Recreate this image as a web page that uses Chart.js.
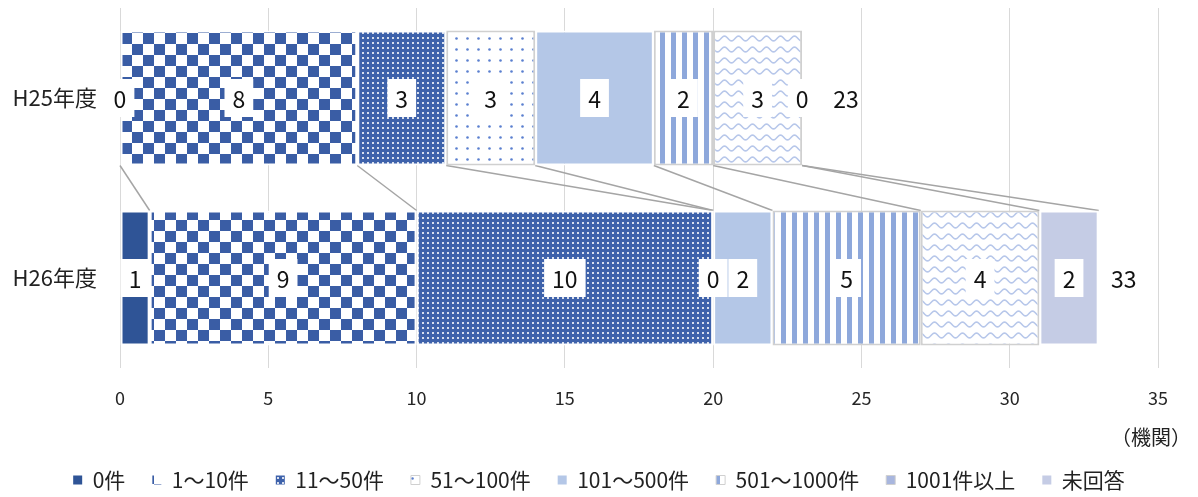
<!DOCTYPE html>
<html>
<head>
<meta charset="utf-8">
<script src="https://cdn.jsdelivr.net/npm/chart.js@4.4.1/dist/chart.umd.min.js"></script>
<style>
  html, body { margin: 0; padding: 0; background: #ffffff; }
  #wrap { width: 1198px; height: 497px; }
</style>
</head>
<body>
<div id="wrap"><canvas id="chart" width="1198" height="497"></canvas></div>
<script>
// Fiscal years (rows) and the request-count bands (stacked segments)
const years = ['H25年度', 'H26年度'];
const bands = ['0件', '1～10件', '11～50件', '51～100件', '101～500件', '501～1000件', '1001件以上', '未回答'];

// Number of institutions per band, [H25, H26]
const count0      = [0, 1];
const count1to10  = [8, 9];
const count11to50 = [3, 10];
const count51to100 = [3, 0];
const count101to500 = [4, 2];
const count501to1000 = [2, 5];
const count1001plus = [3, 4];
const countNoAnswer = [0, 2];

// Horizontal axis range
const axisMax = 35;
const axisStep = 5;
const unitLabel = '（機関）';

const FONT = "'Noto Sans CJK JP', 'Noto Sans', sans-serif";

// ---- fill patterns ----
function tile(w, h, paint) {
  const c = document.createElement('canvas');
  c.width = w; c.height = h;
  const g = c.getContext('2d');
  paint(g, w, h);
  return g.createPattern(c, 'repeat');
}
const fillSolidDark = '#2F5496';
const fillChecker = tile(22, 22, (g) => {
  g.fillStyle = '#ffffff'; g.fillRect(0, 0, 22, 22);
  g.fillStyle = '#3A5DA5';
  g.fillRect(0, 0, 11, 11); g.fillRect(11, 11, 11, 11);
});
const fillFineDots = tile(5, 5, (g) => {
  g.fillStyle = '#3E62AB'; g.fillRect(0, 0, 5, 5);
  g.fillStyle = 'rgba(255,255,255,0.8)'; g.fillRect(2, 2, 2, 2);
});
const fillSparseDots = tile(11, 11, (g) => {
  g.fillStyle = '#ffffff'; g.fillRect(0, 0, 11, 11);
  g.fillStyle = '#5A7FCF';
  g.beginPath(); g.arc(5.5, 5.5, 1.3, 0, Math.PI * 2); g.fill();
});
const fillLight = '#B4C7E7';
const fillStripes = tile(11, 11, (g) => {
  g.fillStyle = '#ffffff'; g.fillRect(0, 0, 11, 11);
  g.fillStyle = '#8EA8DB'; g.fillRect(0, 0, 5, 11);
});
const fillWaves = tile(14, 11, (g) => {
  g.fillStyle = '#ffffff'; g.fillRect(0, 0, 14, 11);
  g.strokeStyle = '#B7C7EA'; g.lineWidth = 1.6;
  g.beginPath();
  for (let x = -2; x <= 16; x += 0.5) {
    const y = 5.5 + 2.4 * Math.sin(2 * Math.PI * x / 14);
    if (x === -2) g.moveTo(x, y); else g.lineTo(x, y);
  }
  g.stroke();
});
const fillNoAnswer = '#C5CCE5';

const edgeWhite = '#ffffff';
const edgeGray = '#D0D0D0';

const seriesValues = [count0, count1to10, count11to50, count51to100, count101to500, count501to1000, count1001plus, countNoAnswer];
const seriesFills = [fillSolidDark, fillChecker, fillFineDots, fillSparseDots, fillLight, fillStripes, fillWaves, fillNoAnswer];
const seriesEdges = [edgeWhite, edgeWhite, edgeWhite, edgeGray, edgeWhite, edgeGray, edgeGray, edgeWhite];
const legendFills = [null, null, null, null, null, null, '#A8B6DE', null];

const datasets = bands.map((name, i) => ({
  label: name,
  data: seriesValues[i],
  backgroundColor: seriesFills[i],
  borderColor: seriesEdges[i],
  borderWidth: 2,
  borderSkipped: false,
  barPercentage: 0.75,
  categoryPercentage: 1.0
}));

// Connector lines between the segment ends of consecutive bars
const seriesLines = {
  id: 'seriesLines',
  beforeDatasetsDraw(chart) {
    const ctx = chart.ctx;
    ctx.save();
    ctx.strokeStyle = '#A5A5A5';
    ctx.lineWidth = 1.5;
    chart.data.datasets.forEach((ds, i) => {
      const meta = chart.getDatasetMeta(i);
      const a = meta.data[0], b = meta.data[1];
      if (!a || !b) return;
      ctx.beginPath();
      ctx.moveTo(a.x, a.y + a.height / 2);
      ctx.lineTo(b.x, b.y - b.height / 2);
      ctx.stroke();
    });
    ctx.restore();
  }
};

// Value labels on white boxes, stack totals, and the unit caption
const valueLabels = {
  id: 'valueLabels',
  afterLayout(chart, args, opts) {
    // legend row: a little lower, centred on the full canvas width
    const L = chart.legend;
    if (!L) return;
    L.top += opts.legendDrop; L.bottom += opts.legendDrop;
    L.left = 0; L.right = chart.width;
  },
  afterDatasetsDraw(chart, args, opts) {
    const ctx = chart.ctx;
    ctx.save();
    ctx.font = '23px ' + FONT;
    ctx.textAlign = 'center';
    ctx.textBaseline = 'middle';
    chart.data.datasets.forEach((ds, i) => {
      const meta = chart.getDatasetMeta(i);
      meta.data.forEach((el, j) => {
        const txt = String(ds.data[j]);
        const cx = (el.x + el.base) / 2;
        const w = ctx.measureText(txt).width + 16;
        ctx.fillStyle = '#ffffff';
        ctx.fillRect(cx - w / 2, el.y - 19, w, 38);
        ctx.fillStyle = '#111111';
        ctx.fillText(txt, cx, el.y + 1);
      });
    });
    // totals
    const xs = chart.scales.x;
    const lastMeta = chart.getDatasetMeta(chart.data.datasets.length - 1);
    chart.data.labels.forEach((lab, j) => {
      const total = chart.data.datasets.reduce((s, ds) => s + ds.data[j], 0);
      const px = xs.getPixelForValue(total) + opts.gaps[j];
      ctx.fillStyle = '#111111';
      ctx.fillText(String(total), px, lastMeta.data[j].y + 1);
    });
    ctx.restore();
  },
  afterDraw(chart) {
    const ctx = chart.ctx;
    const area = chart.chartArea;
    ctx.save();
    ctx.font = '20px ' + FONT;
    ctx.fillStyle = '#222222';
    ctx.textAlign = 'right';
    ctx.textBaseline = 'middle';
    ctx.fillText(unitLabel, area.right + 33, area.bottom + 69);
    ctx.restore();
  }
};

new Chart(document.getElementById('chart'), {
  type: 'bar',
  data: { labels: years, datasets },
  plugins: [seriesLines, valueLabels],
  options: {
    indexAxis: 'y',
    responsive: false,
    animation: false,
    devicePixelRatio: 1,
    layout: { padding: { left: 0, right: 40, top: 8, bottom: 0 } },
    scales: {
      x: {
        stacked: true,
        min: 0,
        max: axisMax,
        ticks: { stepSize: axisStep, padding: 19, color: '#262626', font: { size: 18, family: FONT } },
        grid: { color: '#D9D9D9', lineWidth: 1, drawTicks: false },
        border: { display: false },
        afterFit(s) { s.height = 71; s.paddingLeft = 0; s.paddingRight = 0; }
      },
      y: {
        stacked: true,
        grid: { display: false, drawTicks: false },
        border: { display: false },
        ticks: { padding: 23, color: '#222222', font: { size: 22, family: FONT } },
        afterFit(s) { s.width = 120; s.paddingTop = 0; s.paddingBottom = 0; }
      }
    },
    plugins: {
      tooltip: { enabled: false },
      valueLabels: { gaps: [44, 25], legendDrop: 3.5 },
      legend: {
        position: 'bottom',
        labels: {
          boxWidth: 9,
          boxHeight: 9,
          padding: 27,
          color: '#222222',
          font: { size: 21, family: FONT },
          generateLabels(chart) {
            const items = Chart.defaults.plugins.legend.labels.generateLabels(chart);
            items.forEach((it, i) => {
              const ds = chart.data.datasets[i];
              it.lineWidth = ds.borderColor === edgeGray ? 1 : 0;
              it.strokeStyle = ds.borderColor;
              if (legendFills[i]) it.fillStyle = legendFills[i];
            });
            return items;
          }
        }
      }
    }
  }
});
</script>
</body>
</html>
